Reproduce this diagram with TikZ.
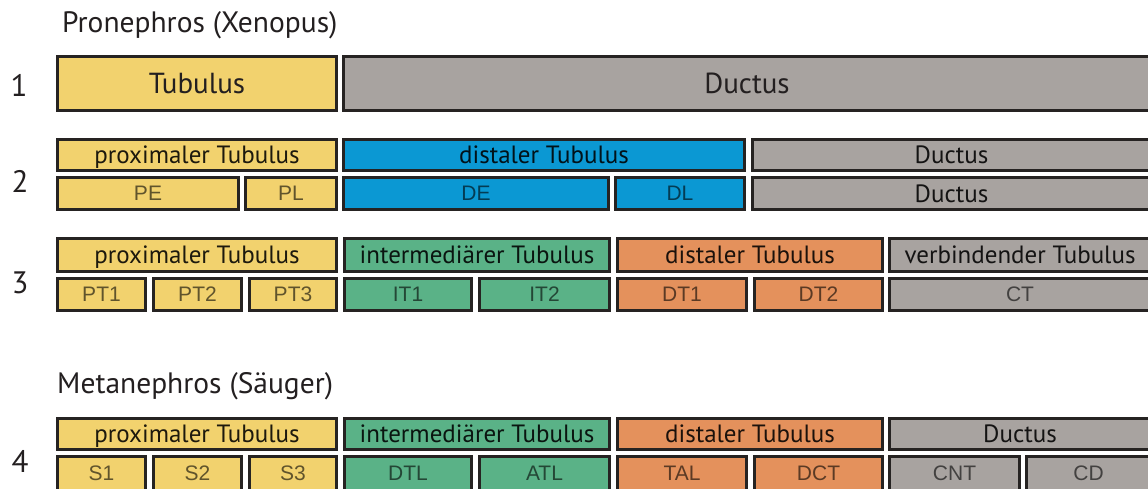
\documentclass[tikz,border=0pt]{standalone}
\usepackage{fontspec}
\setmainfont{PT Sans}
\newfontfamily\subfont{Liberation Sans}
\definecolor{cyel}{HTML}{F2D26E}
\definecolor{cgray}{HTML}{A8A3A0}
\definecolor{cblue}{HTML}{0B98D3}
\definecolor{cgreen}{HTML}{5AB287}
\definecolor{corange}{HTML}{E4915C}
\definecolor{cline}{HTML}{262322}
\definecolor{ctext}{HTML}{231F20}
\tikzset{
  segbox/.style={draw=cline, line width=3pt, inner sep=0pt, outer sep=0pt, text depth=0pt},
  biglabel/.style={segbox, font=\fontsize{29}{30}\selectfont, text=ctext},
  mainlabel/.style={segbox, font=\fontsize{25}{26}\selectfont, text=black, text opacity=0.88},
  sublabel/.style={segbox, font=\subfont\fontsize{21}{22}\selectfont, text=black, text opacity=0.6},
  heading/.style={font=\fontsize{29.5}{30}\selectfont, text=ctext, inner sep=0pt, anchor=base west},
  rownum/.style={font=\fontsize{31}{32}\selectfont, text=ctext, inner sep=0pt}
}
% \seg{name}{x1}{x2}{y1}{y2}{fill}{text}{style}
\newcommand\seg[8]{%
  \node[#8, fill=#6, minimum width={(#3-#2-3)*1pt}, minimum height={(#5-#4-3)*1pt}]
    (#1) at ({(#2+#3)/2},{(#4+#5)/2}) {#7};}
\begin{document}
\begin{tikzpicture}[x=1pt,y=-1pt]
\useasboundingbox (0,0) rectangle (1148,489);
% headings
\node[heading] (hpro) at (62,33) {Pronephros (Xenopus)};
\node[heading] (hmeta) at (57,393) {Metanephros (Säuger)};
% row numbers
\node[rownum] (n1) at (19,85) {1};
\node[rownum] (n2) at (20,181) {2};
\node[rownum] (n3) at (20,283) {3};
\node[rownum] (n4) at (20,461) {4};
% row 1
\seg{a1}{56}{338}{55}{112}{cyel}{Tubulus}{biglabel}
\seg{b1}{342}{1152}{55}{112}{cgray}{Ductus}{biglabel}
% row 2
\seg{a2}{56}{338}{138}{172}{cyel}{proximaler Tubulus}{mainlabel}
\seg{b2}{342}{746}{138}{172}{cblue}{distaler Tubulus}{mainlabel}
\seg{c2}{751}{1152}{138}{172}{cgray}{Ductus}{mainlabel}
\seg{pe}{56}{240}{176}{211}{cyel}{PE}{sublabel}
\seg{pl}{244}{338}{176}{211}{cyel}{PL}{sublabel}
\seg{de}{342}{610}{176}{211}{cblue}{DE}{sublabel}
\seg{dl}{614}{746}{176}{211}{cblue}{DL}{sublabel}
\seg{c2b}{751}{1152}{176}{211}{cgray}{Ductus}{mainlabel}
% row 3
\seg{a3}{56}{338}{237}{273}{cyel}{proximaler Tubulus}{mainlabel}
\seg{b3}{343}{611}{237}{273}{cgreen}{intermediärer Tubulus}{mainlabel}
\seg{c3}{616}{884}{237}{273}{corange}{distaler Tubulus}{mainlabel}
\seg{d3}{888}{1152}{237}{273}{cgray}{verbindender Tubulus}{mainlabel}
\seg{pt1}{56}{147}{277}{312}{cyel}{PT1}{sublabel}
\seg{pt2}{152}{243}{277}{312}{cyel}{PT2}{sublabel}
\seg{pt3}{248}{338}{277}{312}{cyel}{PT3}{sublabel}
\seg{it1}{343}{473}{277}{312}{cgreen}{IT1}{sublabel}
\seg{it2}{478}{611}{277}{312}{cgreen}{IT2}{sublabel}
\seg{dt1}{616}{748}{277}{312}{corange}{DT1}{sublabel}
\seg{dt2}{753}{884}{277}{312}{corange}{DT2}{sublabel}
\seg{ct}{888}{1152}{277}{312}{cgray}{CT}{sublabel}
% row 4
\seg{a4}{56}{338}{417}{451}{cyel}{proximaler Tubulus}{mainlabel}
\seg{b4}{343}{611}{417}{451}{cgreen}{intermediärer Tubulus}{mainlabel}
\seg{c4}{616}{884}{417}{451}{corange}{distaler Tubulus}{mainlabel}
\seg{d4}{888}{1152}{417}{451}{cgray}{Ductus}{mainlabel}
\seg{s1}{56}{147}{455}{492}{cyel}{S1}{sublabel}
\seg{s2}{152}{243}{455}{492}{cyel}{S2}{sublabel}
\seg{s3}{248}{338}{455}{492}{cyel}{S3}{sublabel}
\seg{dtl}{343}{473}{455}{492}{cgreen}{DTL}{sublabel}
\seg{atl}{478}{611}{455}{492}{cgreen}{ATL}{sublabel}
\seg{tal}{616}{748}{455}{492}{corange}{TAL}{sublabel}
\seg{dct}{753}{884}{455}{492}{corange}{DCT}{sublabel}
\seg{cnt}{888}{1021}{455}{492}{cgray}{CNT}{sublabel}
\seg{cd}{1025}{1152}{455}{492}{cgray}{CD}{sublabel}
\end{tikzpicture}
\end{document}
